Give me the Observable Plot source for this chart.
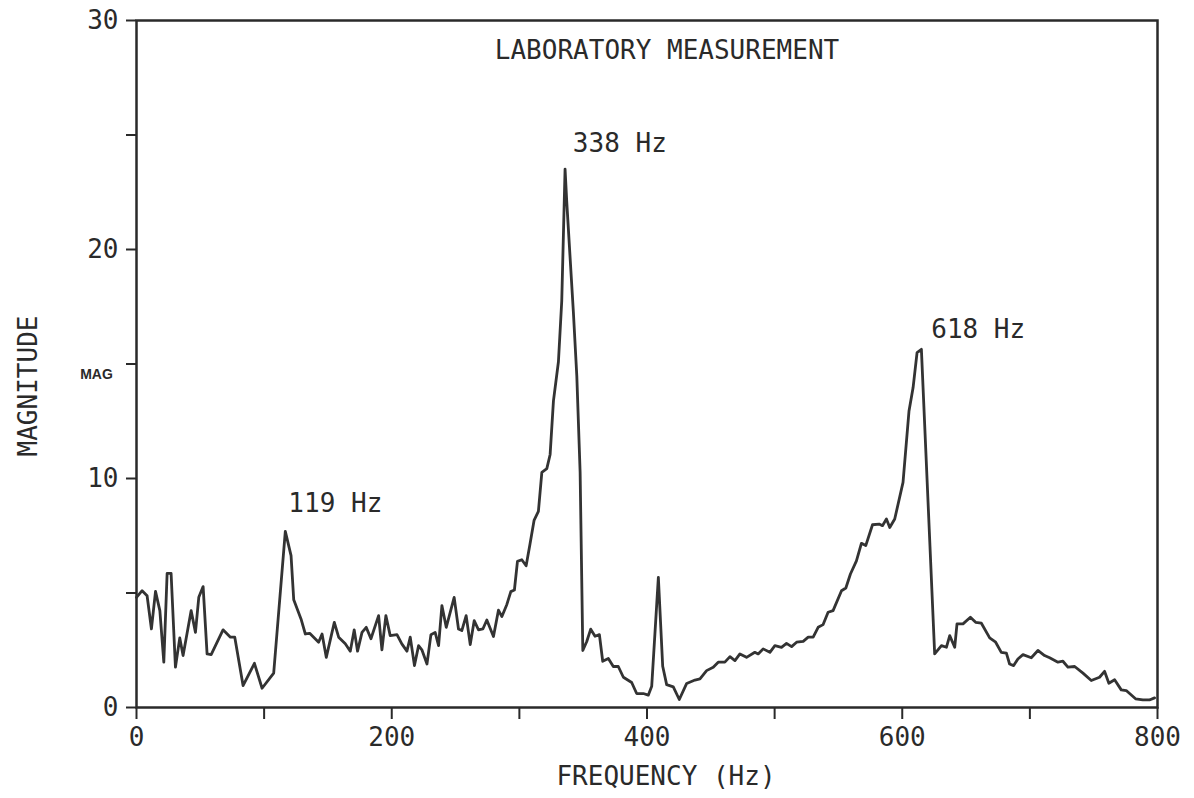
<!DOCTYPE html>
<html>
<head>
<meta charset="utf-8">
<script src="https://cdn.jsdelivr.net/npm/d3@7"></script>
<script src="https://cdn.jsdelivr.net/npm/@observablehq/plot@0.6"></script>
<style>
  html, body { margin: 0; padding: 0; background: #fff; }
</style>
</head>
<body>
<div id="chart"></div>
<script>
// ---- data ----
const freq = [
  0, 4.4, 8.3, 11.7, 14.9, 18.3, 21.4, 24, 27.1, 30.5, 33.9, 36.5, 42.8, 46.2, 48.8, 52.2, 55.3, 58.5,
  67.8, 73.6, 77, 83.5, 92.4, 98.4, 107.5, 116.6, 121.1, 123.2, 128.9, 132.3, 135.7, 142.7, 145.4, 148.7,
  155, 158.4, 163.6, 167.5, 170.6, 173.2, 176.7, 180, 183.7, 189.7, 192.3, 195.4, 198.8, 204.1, 207.9,
  211.9, 214.5, 217.8, 221, 223.6, 227.6, 230.7, 234, 236.7, 239.3, 242.7, 248.9, 252.3, 254.9, 258.3,
  261.5, 264.6, 268, 271.4, 274.5, 279.7, 283.6, 286.3, 290.2,
  293.3, 296.1, 298.5, 301.9, 305.3, 308.4, 311.5, 314.9, 317.6, 321.5, 324.1, 326.7, 330.6, 333.2,
  335.8, 337.1, 342.3, 345, 347.6, 349.7, 352.8, 355.9, 359.3, 362.7, 365.3, 369.7, 373.6, 377.5,
  381.5, 388, 391.9, 397.1, 401, 403.7, 408.9, 412.3, 415.4, 420.6, 425.3, 431.1, 437.6, 441.5,
  446.7, 451.9, 455.8, 461, 465, 468.9, 472.8, 478, 484.5, 487.1, 491, 496.3, 500.2, 505.4, 509.3,
  513.3, 517.2, 522.4, 526.3, 530.2, 534.1, 538, 541.9, 545.8, 552.4, 555.8, 559.4, 564.1, 568,
  571.4, 576.7, 581.9, 584.5, 587.6, 590.2, 594.1, 600.6, 605.3, 608.5, 611.6, 615,
  625.4, 630.7, 634.6, 637.2, 641.1, 642.9, 647.6, 653.4, 657.5, 662, 668.5, 673.2, 677.6, 681.6,
  684.1, 687.3, 690.6, 694.6, 701.1, 706.3, 711.5, 715.5, 722, 725.9, 729.8, 735.1, 741.6, 748.1,
  754.6, 758.5, 761.9, 766.4, 771.6, 775.5, 782.8, 788.5, 793.7, 797.7
];
const mag = [
  4.81, 5.1, 4.88, 3.43, 5.07, 4.23, 1.98, 5.86, 5.86, 1.76, 3.04, 2.27, 4.23, 3.28, 4.81, 5.28, 2.34, 2.31,
  3.39, 3.07, 3.07, 0.96, 1.93, 0.84, 1.5, 7.69, 6.63, 4.7, 3.87, 3.21, 3.24, 2.85, 3.21, 2.19,
  3.72, 3.07, 2.78, 2.46, 3.39, 2.46, 3.28, 3.5, 3.0, 4.01, 2.52, 4.01, 3.14, 3.18, 2.78,
  2.46, 3.07, 1.83, 2.7, 2.52, 1.9, 3.18, 3.28, 2.7, 4.45, 3.5, 4.81, 3.43, 3.36, 4.01,
  2.75, 3.79, 3.39, 3.43, 3.82, 3.1, 4.25, 3.97, 4.5,
  5.06, 5.13, 6.38, 6.45, 6.19, 7.16, 8.17, 8.56, 10.27, 10.43, 11.05, 13.39, 15.1, 17.75,
  23.51, 22.1, 17.28, 14.48, 10.27, 2.49, 2.88, 3.42, 3.11, 3.18, 2.02, 2.14, 1.79, 1.79,
  1.32, 1.09, 0.61, 0.61, 0.54, 0.93, 5.68, 1.8, 1.0, 0.9, 0.35, 1.05, 1.2, 1.25,
  1.61, 1.76, 1.98, 1.98, 2.22, 2.05, 2.34, 2.19, 2.41, 2.34, 2.56, 2.41, 2.7, 2.63, 2.8,
  2.66, 2.85, 2.89, 3.07, 3.07, 3.5, 3.62, 4.16, 4.23, 5.1, 5.22, 5.83, 6.4, 7.17,
  7.07, 7.98, 8.01, 7.94, 8.23, 7.86, 8.23, 9.83, 12.95, 13.97, 15.5, 15.64,
  2.34, 2.7, 2.63, 3.14, 2.63, 3.65, 3.65, 3.94, 3.72, 3.68, 3.04, 2.85, 2.41, 2.37,
  1.9, 1.83, 2.12, 2.31, 2.17, 2.49, 2.27, 2.17, 1.98, 2.02, 1.76, 1.79, 1.5, 1.18,
  1.32, 1.58, 1.06, 1.21, 0.77, 0.74, 0.38, 0.33, 0.33, 0.42
];
const xTicks = [0, 100, 200, 300, 400, 500, 600, 700, 800];
const xTickLabels = ["0", "", "200", "", "400", "", "600", "", "800"];
const yTicks = [0, 5, 10, 15, 20, 25, 30];
const yTickLabels = ["0", "", "10", "", "20", "", "30"];
const peakFreqs = [119, 338, 618];
const peakLabels = ["119 Hz", "338 Hz", "618 Hz"];
const titleText = "LABORATORY MEASUREMENT";
const xLabelText = "FREQUENCY (Hz)";
const yLabelText = "MAGNITUDE";
const yUnitText = "MAG";

// ---- build ----
const data = freq.map((f, i) => ({f, m: mag[i]}));
const peaks = peakFreqs.map((f, i) => ({
  f,
  label: peakLabels[i],
  m: d3.max(data.filter(d => Math.abs(d.f - f) < 8), d => d.m)
}));
const peakOffsets = [[0, -28], [5, -25], [6, -20]];

const ink = "#2a2a2a";
const font = "'DejaVu Sans Mono', monospace";

const chart = Plot.plot({
  width: 1194,
  height: 798,
  marginLeft: 136,
  marginRight: 37,
  marginTop: 20,
  marginBottom: 91,
  style: {fontFamily: font, fontSize: "26px", color: ink, background: "#fff"},
  x: {domain: [0, 800]},
  y: {domain: [0, 30]},
  marks: [
    Plot.axisX({
      ticks: xTicks,
      tickFormat: d => xTickLabels[xTicks.indexOf(d)],
      tickSize: 12, tickPadding: 8, strokeWidth: 2,
      label: null, fontSize: 26
    }),
    Plot.axisY({
      ticks: yTicks,
      tickFormat: d => yTickLabels[yTicks.indexOf(d)],
      tickSize: 10, tickPadding: 8, strokeWidth: 2,
      label: null, fontSize: 26
    }),
    Plot.frame({stroke: ink, strokeWidth: 2.5}),
    Plot.line(data, {x: "f", y: "m", stroke: "#333", strokeWidth: 2.8, strokeLinejoin: "round"}),
    ...peaks.map((p, i) => Plot.text([p], {
      x: "f", y: "m", text: "label", textAnchor: "start",
      dx: peakOffsets[i][0], dy: peakOffsets[i][1], fontSize: 26, fill: ink
    })),
    Plot.text([titleText], {frameAnchor: "top", textAnchor: "middle", lineAnchor: "middle",
      dx: 20, dy: 30, fontSize: 26, fill: ink}),
    Plot.text([xLabelText], {frameAnchor: "bottom", textAnchor: "middle", lineAnchor: "middle",
      dx: 19, dy: 69, fontSize: 26, fill: ink}),
    Plot.text([yLabelText], {frameAnchor: "left", textAnchor: "middle", lineAnchor: "middle",
      rotate: -90, dx: -108, dy: 22, fontSize: 26, fill: ink}),
    Plot.text([yUnitText], {x: () => 0, y: () => 15, dx: -40, dy: 11, fontSize: 14, fontWeight: "bold",
      fontFamily: "'Liberation Sans', Arial, sans-serif", fill: ink})
  ]
});
document.getElementById("chart").appendChild(chart);
</script>
</body>
</html>
